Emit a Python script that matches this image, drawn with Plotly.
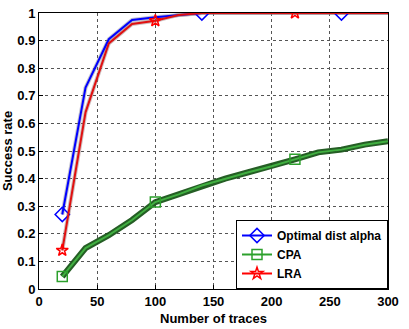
import plotly.graph_objects as go

traces = [20, 40, 60, 80, 100, 120, 140, 160, 180, 200, 220, 240, 260, 280, 300]
optimal = [0.27, 0.73, 0.905, 0.975, 0.985, 0.993, 1.0, 1.0, 1.0, 1.0, 1.0, 1.0, 1.0, 1.0, 1.0]
cpa = [0.045, 0.148, 0.195, 0.25, 0.315, 0.343, 0.375, 0.40, 0.423, 0.445, 0.47, 0.495, 0.505, 0.523, 0.535]
lra = [0.14, 0.64, 0.89, 0.96, 0.972, 0.993, 1.0, 1.0, 1.0, 1.0, 1.0, 1.0, 1.0, 1.0, 1.0]

# marker positions (sparse markers along each curve)
opt_marks = [20, 140, 260]
cpa_marks = [20, 100, 220]
lra_marks = [20, 100, 220]

FONT = "Liberation Sans, Arial, Helvetica"

series = [
    ("Optimal dist alpha", optimal, opt_marks, "#0000ff", "#0000ff", "rgba(120,120,150,0.45)", 4, "diamond-open", 11),
    ("CPA", cpa, cpa_marks, "#2ca02c", "#41b041", "rgba(25,85,25,0.95)", 6, "square-open", 10),
    ("LRA", lra, lra_marks, "#ff0000", "#e01010", "rgba(150,110,110,0.45)", 4, "star-open", 9),
]

fig = go.Figure()

# halo under each curve
for name, ys, marks, color, lcolor, halo, hw, sym, size in series:
    fig.add_trace(go.Scatter(x=traces, y=ys, mode="lines", showlegend=False,
                             line=dict(color=halo, width=hw), hoverinfo="skip"))

for name, ys, marks, color, lcolor, halo, hw, sym, size in series:
    fig.add_trace(go.Scatter(x=traces, y=ys, mode="lines", showlegend=False,
                             line=dict(color=lcolor, width=2)))
    my = [ys[traces.index(m)] for m in marks]
    fig.add_trace(go.Scatter(x=marks, y=my, mode="markers", showlegend=False,
                             marker=dict(symbol=sym, size=size, color=color,
                                         line=dict(color=color, width=1.5))))
    # legend entry
    fig.add_trace(go.Scatter(x=[None], y=[None], mode="lines+markers", name=name,
                             line=dict(color=color, width=2),
                             marker=dict(symbol=sym, size=size, color=color,
                                         line=dict(color=color, width=1.5))))

axis_common = dict(
    showline=True, linecolor="black", linewidth=1, mirror=True,
    ticks="inside", ticklen=4, tickcolor="black",
    showgrid=True, gridcolor="#555555", griddash="dot", gridwidth=1,
    zeroline=False, automargin=False,
    tickfont=dict(family=FONT, size=13, color="black", weight="bold"),
)

fig.update_xaxes(range=[0, 300], tickvals=[0, 50, 100, 150, 200, 250, 300],
                 title=dict(text="Number of traces", standoff=6,
                            font=dict(family=FONT, size=13, color="black", weight="bold")),
                 **axis_common)
fig.update_yaxes(range=[0, 1], tickvals=[0, 0.1, 0.2, 0.3, 0.4, 0.5, 0.6, 0.7, 0.8, 0.9, 1],
                 ticktext=["0", "0.1", "0.2", "0.3", "0.4", "0.5", "0.6", "0.7", "0.8", "0.9", "1"],
                 title=dict(text="Success rate", standoff=3,
                            font=dict(family=FONT, size=13, color="black", weight="bold")),
                 **axis_common)

fig.update_layout(
    width=409, height=329,
    margin=dict(l=39, r=21, t=13, b=40),
    paper_bgcolor="white", plot_bgcolor="white",
    legend=dict(x=1, xanchor="right", y=0, yanchor="bottom",
                bgcolor="white", bordercolor="black", borderwidth=1,
                font=dict(family=FONT, size=12, color="black", weight="bold"),
                tracegroupgap=0, itemwidth=30),
)

fig.write_html("out.html")
